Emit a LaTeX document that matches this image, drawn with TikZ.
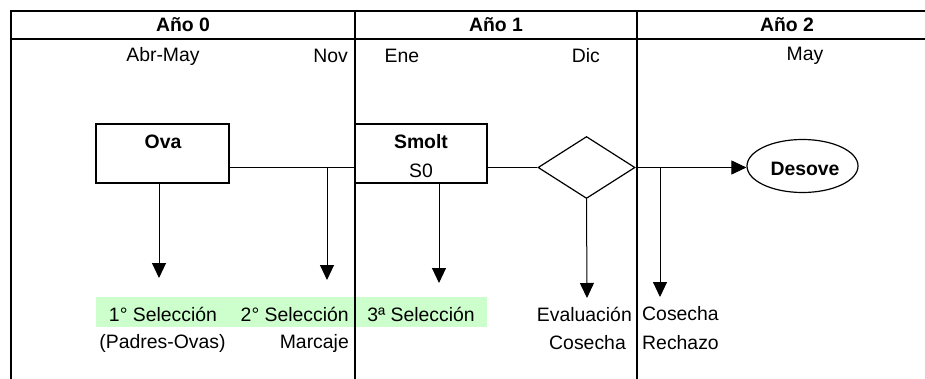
\documentclass[tikz,border=0pt]{standalone}
\usepackage{fontspec}
\setmainfont{Liberation Sans}
\usetikzlibrary{arrows.meta,shapes.geometric}
\definecolor{lgreen}{RGB}{204,255,204}
\tikzset{
  txt/.style={inner sep=0pt, font=\fontsize{19.4}{23}\selectfont},
  btxt/.style={txt, font=\fontsize{19.4}{23}\selectfont\bfseries},
  grid/.style={line width=2pt},
  boxnode/.style={draw, line width=1.5pt, inner sep=0pt},
  conn/.style={line width=1pt},
  arr/.style={conn, -{Triangle[length=15pt,width=14pt]}}
}
\begin{document}
\begin{tikzpicture}[x=1pt,y=-1pt]
\useasboundingbox (0,0) rectangle (925,379);
% green band
\fill[lgreen] (96,297) rectangle (487,327);
% grid lines
\draw[grid] (11,11) -- (925,11);
\draw[grid] (11,39) -- (925,39);
\draw[grid] (11,10) -- (11,379);
% headers
\node[btxt] (h0) at (183,25) {Año 0};
\node[btxt] (h1) at (496,25) {Año 1};
\node[btxt] (h2) at (787,25) {Año 2};
% months
\node[txt] (m1) at (163,56) {Abr-May};
\node[txt, anchor=east] (m2) at (348,56) {Nov};
\node[txt] (m3) at (402,56) {Ene};
\node[txt, anchor=east] (m4) at (600,56) {Dic};
\node[txt] (m5) at (805,56) {May};
% boxes
\node[boxnode, minimum width=133pt, minimum height=59pt] (ova) at (162.5,153.5) {};
\node[btxt] (ovat) at (163,142) {Ova};
\node[boxnode, minimum width=132pt, minimum height=59pt] (smolt) at (421,153.5) {};
\node[btxt] (smoltt) at (421,142) {Smolt};
\node[txt] (s0) at (421,171) {S0};
\node[draw, line width=1.2pt, diamond, inner sep=0pt, minimum width=97pt, minimum height=62pt] (dia) at (586.5,167.5) {};
\node[draw, line width=1.2pt, ellipse, inner sep=0pt, minimum width=111pt, minimum height=53pt] (des) at (802.5,166) {};
\node[btxt] (dest) at (805,169) {Desove};
% dividers
\draw[grid] (355,10) -- (355,379);
\draw[grid] (636.5,10) -- (636.5,379);
% coordinates
\coordinate (j1) at (327,167.5);
\coordinate (j2) at (660,167.5);
\coordinate (t1) at (159,278);
\coordinate (t2) at (327,280);
\coordinate (t3) at (439,283);
\coordinate (t4) at (587,298);
\coordinate (t5) at (660,297);
% connectors
\draw[conn] (ova.east |- j1) -- (smolt.west |- j1);
\draw[arr] (j1) -- (t2);
\draw[arr] (ova.south -| t1) -- (t1);
\draw[arr] (smolt.south -| t3) -- (t3);
\draw[conn] (smolt.east |- dia.west) -- (dia.west);
\draw[arr] (dia.south) -- (t4);
\draw[arr] (dia.east) -- (dia.east -| des.west);
\draw[arr] (j2) -- (t5);
% bottom labels
\node[txt] (l1) at (163,314) {1° Selección};
\node[txt, anchor=east] (l2) at (349,314) {2° Selección};
\node[txt] (l3) at (421,314) {3ª Selección};
\node[txt] (l4) at (162.5,343) {(Padres-Ovas)};
\node[txt, anchor=east] (l5) at (349,343) {Marcaje};
\node[txt, anchor=east] (l6) at (632,314) {Evaluación};
\node[txt, anchor=east] (l7) at (626,343) {Cosecha};
\node[txt, anchor=west] (l8) at (642,314) {Cosecha};
\node[txt, anchor=west] (l9) at (642,343) {Rechazo};
\end{tikzpicture}
\end{document}
